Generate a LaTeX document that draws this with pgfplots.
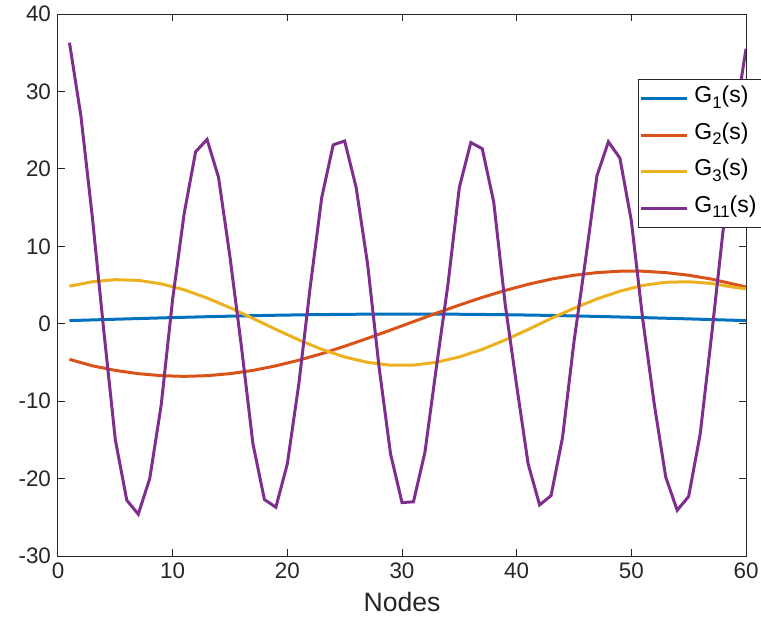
\documentclass[border=0pt]{standalone}
\usepackage{fontspec}
\setmainfont{Liberation Sans}
\usepackage{pgfplots}
\pgfplotsset{compat=1.18}

\definecolor{mblue}{rgb}{0,0.447,0.741}
\definecolor{morange}{rgb}{0.850,0.325,0.098}
\definecolor{myellow}{rgb}{0.929,0.694,0.125}
\definecolor{mpurple}{rgb}{0.494,0.184,0.556}
\definecolor{axgray}{rgb}{0.15,0.15,0.15}
% MATLAB-style subscript, sits lower than \textsubscript
\newcommand{\sub}[1]{\raisebox{-2.8pt}{\fontsize{8.4}{9}\selectfont #1}}

\begin{document}
\begin{tikzpicture}
\begin{axis}[name=ax,
  scale only axis, width=344pt, height=271pt,
  xmin=0, xmax=60, ymin=-30, ymax=40,
  xtick={0,10,...,60}, ytick={-30,-20,...,40},
  tick align=inside, major tick length=3.5pt,
  axis line style={axgray, line width=0.5pt},
  every tick/.style={axgray, line width=0.5pt},
  /pgf/number format/assume math mode=true,
  tick label style={font=\fontsize{11.2}{13}\selectfont, text=axgray},
  xlabel={Nodes},
  xlabel style={font=\fontsize{13.3}{15}\selectfont, text=axgray},
  legend cell align=left,
  legend style={at={(0.843,0.88)}, anchor=north west, draw=axgray, line width=0.4pt,
    font=\fontsize{11.5}{13}\selectfont, inner sep=0.5pt,
    nodes={inner ysep=2pt, inner xsep=3pt, text height=9pt, text depth=5.3pt}},
  legend image code/.code={\draw[#1] (0pt,0pt) -- (23pt,0pt);},
  every axis plot/.append style={line width=1.5pt},
]
% G1
\addplot[mblue] coordinates {(1,0.40) (4,0.535) (7,0.667) (10,0.792) (13,0.907) (16,1.009) (19,1.095) (22,1.164) (25,1.213) (28,1.243) (30.5,1.25) (33,1.243) (36,1.213) (39,1.164) (42,1.095) (45,1.009) (48,0.907) (51,0.792) (54,0.667) (57,0.535) (60,0.40)};
% G2
\addplot[morange] coordinates {(1,-4.6) (3,-5.44) (5,-6.03) (7,-6.45) (9,-6.71) (11,-6.80) (13,-6.71) (15,-6.45) (17,-6.03) (19,-5.44) (21,-4.71) (23,-3.87) (25,-2.91) (27,-1.89) (29,-0.82) (31,0.27) (33,1.36) (35,2.41) (37,3.40) (39,4.30) (41,5.09) (43,5.76) (45,6.26) (47,6.60) (49,6.78) (51,6.78) (53,6.60) (55,6.26) (57,5.76) (59,5.09) (60,4.75)};
% G3
\addplot[myellow] coordinates {(1,4.85) (3,5.42) (5,5.69) (7,5.60) (9,5.15) (11,4.38) (13,3.32) (15,2.07) (17,0.69) (19,-0.73) (21,-2.09) (23,-3.31) (25,-4.30) (27,-4.99) (29,-5.36) (31,-5.35) (33,-4.98) (35,-4.29) (37,-3.31) (39,-2.10) (41,-0.75) (43,0.68) (45,2.0) (47,3.2) (49,4.2) (51,4.95) (53,5.35) (55,5.42) (57,5.2) (59,4.7) (60,4.5)};
% G11
\addplot[mpurple] coordinates {(1,36.3) (2,26.8) (3,13.7) (4,-1.0) (5,-15.0) (6,-22.8) (7,-24.6) (8,-20.0) (9,-10.5) (10,3.2)
 (11,14.2) (12,22.2) (13,23.8) (14,18.9) (15,8.6) (16,-3.0) (17,-15.5) (18,-22.7) (19,-23.7) (20,-18.1)
 (21,-7.8) (22,4.8) (23,16.3) (24,23.1) (25,23.6) (26,17.6) (27,7.7) (28,-5.6) (29,-16.8) (30,-23.1)
 (31,-23.0) (32,-16.6) (33,-5.6) (34,5.0) (35,17.6) (36,23.4) (37,22.6) (38,15.7) (39,2.5) (40,-8.0)
 (41,-18.1) (42,-23.4) (43,-22.2) (44,-14.7) (45,-2.3) (46,8.2) (47,19.1) (48,23.5) (49,21.4) (50,13.3)
 (51,0.5) (52,-10.4) (53,-19.8) (54,-24.1) (55,-22.3) (56,-14.3) (57,-1.5) (58,12.0) (59,26.0) (60,35.5)};
\legend{G\sub{1}(s), G\sub{2}(s), G\sub{3}(s), G\sub{11}(s)}
\end{axis}
\pgfresetboundingbox
\path[use as bounding box] ([shift={(-29pt,-34pt)}]ax.south west) rectangle ([shift={(7.5pt,7pt)}]ax.north east);
\end{tikzpicture}
\end{document}
